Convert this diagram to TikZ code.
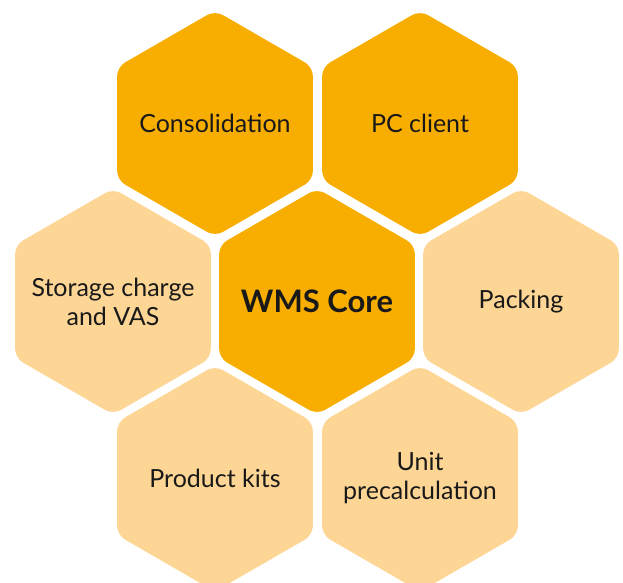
\documentclass[tikz,border=0pt]{standalone}
\usepackage{fontspec}
\setmainfont{Lato}
\usetikzlibrary{shapes.geometric}

\definecolor{hexdark}{HTML}{F8AE00}
\definecolor{hexlight}{HTML}{FDD594}

\begin{document}
\begin{tikzpicture}[x=1pt,y=-1pt,
  hexbox/.style={regular polygon, regular polygon sides=6, shape border rotate=30,
    minimum size=226pt, inner sep=0pt, rounded corners=9pt},
  darkhex/.style={hexbox, fill=hexdark},
  lighthex/.style={hexbox, fill=hexlight},
  hextext/.style={align=center, inner sep=0pt,
    font=\fontsize{25}{29}\selectfont, text=black!90}]

\useasboundingbox (0,0) rectangle (623,582);

% top row
\node[darkhex] (cons) at (215,123.5) {};
\node[darkhex] (pc) at (420,123.5) {};

% middle row
\node[lighthex] (storage) at (113,301.5) {};
\node[darkhex] (core) at (317,301.5) {};
\node[lighthex] (packing) at (521,301.5) {};

% bottom row
\node[lighthex] (kits) at (215,478.5) {};
\node[lighthex] (unit) at (420,478.5) {};

% labels
\node[hextext] (cons-t) at (cons) {Consolidation};
\node[hextext] (pc-t) at (pc) {PC client};
\node[hextext] (storage-t) at (storage) {Storage charge\\and VAS};
\node[hextext, font=\fontsize{31}{36}\selectfont\bfseries] (core-t) at (core) {WMS Core};
\node[hextext] (packing-t) at (packing) {Packing};
\node[hextext] (kits-t) at (kits) {Product kits};
\node[hextext] (unit-t) at (unit) {Unit\\precalculation};

\end{tikzpicture}
\end{document}
